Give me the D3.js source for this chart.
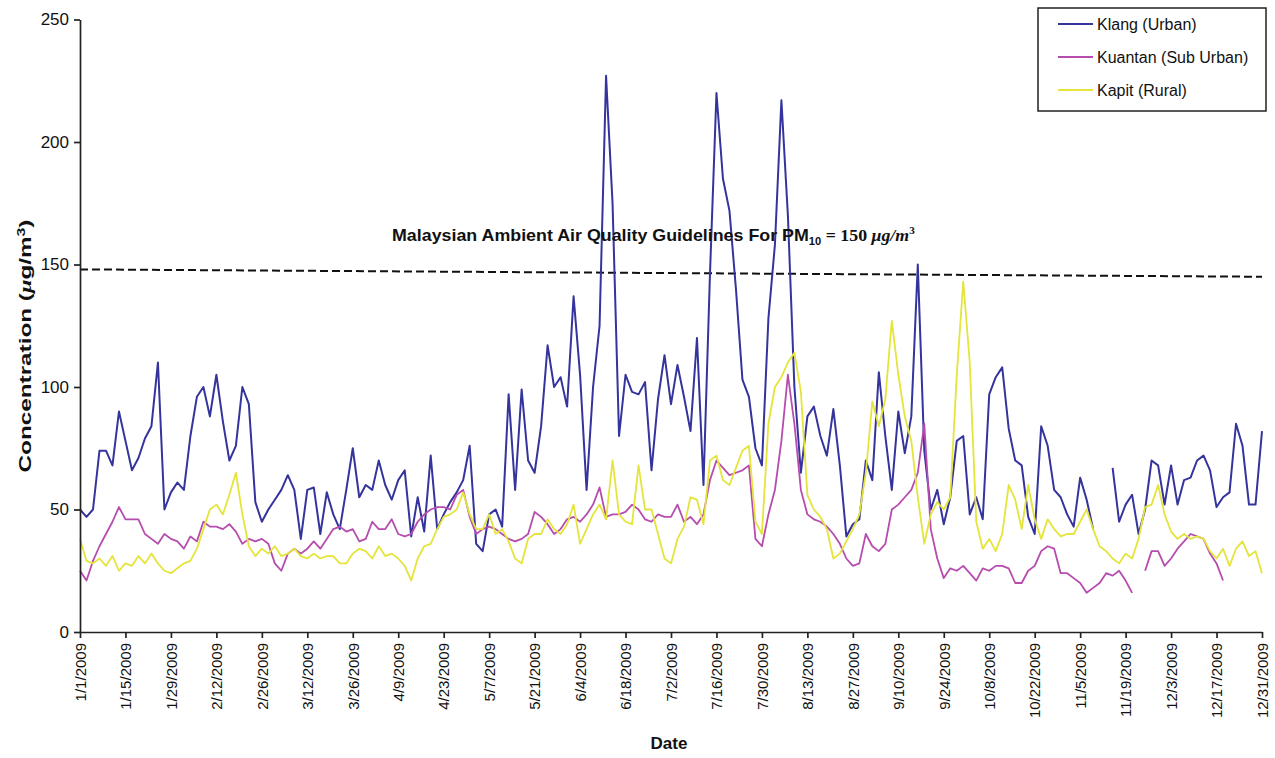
<!DOCTYPE html>
<html>
<head>
<meta charset="utf-8">
<script src="https://cdn.jsdelivr.net/npm/d3@7"></script>
<style>
  body { margin: 0; background: #fff; }
  svg { display: block; font-family: "Liberation Sans", Arial, sans-serif; }
</style>
</head>
<body>
<div id="chart"></div>
<script>
// daily PM10 readings, sampled every 2nd day from 1/1/2009
const startDate = "1/1/2009";
const stepDays = 2;

const klang = [
  50,47,50,74,74,68,90,78,66,71,
  79,84,110,50,57,61,58,80,96,100,
  88,105,86,70,76,100,93,53,45,50,
  54,58,64,58,38,58,59,40,57,48,
  42,58,75,55,60,58,70,60,54,62,
  66,39,55,41,72,42,48,53,57,62,
  76,36,33,48,50,43,97,58,99,70,
  65,84,117,100,104,92,137,105,58,100,
  125,227,175,80,105,98,97,102,66,95,
  113,93,109,96,82,120,60,146,220,185,
  172,140,103,96,75,68,128,158,217,170,
  100,65,88,92,80,72,91,68,39,44,
  46,70,62,106,80,58,90,73,88,150,
  74,50,58,44,55,78,80,48,55,46,
  97,104,108,83,70,68,47,40,84,76,
  58,55,48,43,63,54,42,null,null,67,
  45,52,56,40,50,70,68,52,68,52,
  62,63,70,72,66,51,55,57,85,76,
  52,52,82
];

const kuantan = [
  25,21,29,35,40,45,51,46,46,46,
  40,38,36,40,38,37,34,39,37,45,
  43,43,42,44,41,36,38,37,38,36,
  28,25,32,34,32,34,37,34,38,42,
  43,41,42,37,38,45,42,42,46,40,
  39,40,45,48,50,51,51,50,56,58,
  47,40,42,43,42,40,38,37,38,40,
  49,47,44,40,42,46,47,45,48,52,
  59,47,48,48,49,52,50,46,45,48,
  47,47,52,45,47,44,48,62,70,67,
  64,65,66,68,38,35,48,58,78,105,
  85,58,48,46,45,43,40,36,30,27,
  28,40,35,33,36,50,52,55,58,65,
  85,42,30,22,26,25,27,24,21,26,
  25,27,27,26,20,20,25,27,33,35,
  34,24,24,22,20,16,18,20,24,23,
  25,21,16,null,25,33,33,27,30,34,
  37,40,39,38,32,28,21,null,null,null,
  null,null,null
];

const kapit = [
  38,29,28,30,27,31,25,28,27,31,
  28,32,28,25,24,26,28,29,34,42,
  50,52,48,56,65,48,35,31,34,32,
  35,31,32,34,31,30,32,30,31,31,
  28,28,32,34,33,30,35,31,32,30,
  27,21,30,35,36,42,47,48,50,57,
  48,42,42,48,40,42,37,30,28,38,
  40,40,46,42,40,44,52,36,42,48,
  52,46,70,48,45,44,68,50,50,40,
  30,28,38,43,55,54,44,70,72,62,
  60,67,74,76,45,40,85,100,104,110,
  114,98,56,50,47,42,30,32,37,42,
  48,65,94,84,95,127,105,88,78,55,
  36,48,53,50,55,105,143,110,45,34,
  38,33,40,60,54,42,60,46,38,46,
  42,39,40,40,45,50,42,35,33,30,
  28,32,30,38,51,52,60,48,41,38,
  40,38,39,38,33,30,34,27,34,37,
  31,33,24
];

const seriesNames = ["Klang (Urban)", "Kuantan (Sub Urban)", "Kapit (Rural)"];
const seriesColors = ["#34349c", "#b64cae", "#e4e43a"];

const tickLabels = ["1/1/2009","1/15/2009","1/29/2009","2/12/2009","2/26/2009","3/12/2009",
  "3/26/2009","4/9/2009","4/23/2009","5/7/2009","5/21/2009","6/4/2009","6/18/2009",
  "7/2/2009","7/16/2009","7/30/2009","8/13/2009","8/27/2009","9/10/2009","9/24/2009",
  "10/8/2009","10/22/2009","11/5/2009","11/19/2009","12/3/2009","12/17/2009","12/31/2009"];
const yTicks = [0, 50, 100, 150, 200, 250];

// guideline as drawn in the source (slightly sloped), start and end value
const guideline = [148, 145];

const W = 1275, H = 758;
const parse = d3.timeParse("%m/%d/%Y");
const t0 = parse(startDate);
const tickDates = tickLabels.map(parse);

const x = d3.scaleTime().domain([tickDates[0], tickDates[tickDates.length - 1]]).range([80, 1262]);
const y = d3.scaleLinear().domain([0, 250]).range([632, 19.5]);

const svg = d3.select("#chart").append("svg").attr("width", W).attr("height", H);

// guideline dashed line
svg.append("line")
  .attr("x1", x(tickDates[0])).attr("x2", x(tickDates[tickDates.length - 1]))
  .attr("y1", y(guideline[0])).attr("y2", y(guideline[1]))
  .attr("stroke", "#111").attr("stroke-width", 2).attr("stroke-dasharray", "8,4");

// series lines
const line = d3.line()
  .defined(d => d.v != null)
  .x(d => x(d.date))
  .y(d => y(d.v));

[klang, kuantan, kapit].forEach((vals, k) => {
  const pts = vals.map((v, i) => ({ date: d3.timeDay.offset(t0, i * stepDays), v: v }));
  svg.append("path")
    .datum(pts)
    .attr("fill", "none")
    .attr("stroke", seriesColors[k])
    .attr("stroke-width", k == 0 ? 2 : 1.8)
    .attr("stroke-linejoin", "round")
    .attr("d", line);
});

// axes
const xAxis = svg.append("g")
  .attr("transform", "translate(0,632)")
  .call(d3.axisBottom(x).tickValues(tickDates).tickFormat((d, i) => tickLabels[i]).tickSize(6).tickSizeOuter(0));
xAxis.selectAll("text")
  .attr("x", -11).attr("y", 0).attr("dy", "0.35em")
  .attr("transform", "rotate(-90)")
  .attr("text-anchor", "end")
  .style("font-size", "15px").attr("fill", "#111");

const yAxis = svg.append("g")
  .attr("transform", "translate(80,0)")
  .call(d3.axisLeft(y).tickValues(yTicks).tickSize(6).tickSizeOuter(0).tickPadding(5));
yAxis.selectAll("text").style("font-size", "17px").attr("fill", "#111");

svg.selectAll(".domain, .tick line").attr("stroke", "#222").attr("stroke-width", 1.7);

// axis titles
const yt = svg.append("g");
const ytText = yt.append("text").attr("text-anchor", "middle")
  .style("font-weight", "bold").style("font-size", "17px").attr("fill", "#111");
ytText.append("tspan").text("Concentration (");
ytText.append("tspan").text("μ").style("font-family", "'Liberation Serif', serif").style("font-style", "italic");
ytText.append("tspan").text("g/m");
ytText.append("tspan").text("3").attr("dy", -6).style("font-size", "11px");
ytText.append("tspan").text(")").attr("dy", 6);
const ytw = ytText.node().getBBox().width;
yt.attr("transform", `translate(31,346) rotate(-90) scale(${253 / ytw},1)`);

svg.append("text").attr("x", 669).attr("y", 749).attr("text-anchor", "middle")
  .style("font-weight", "bold").style("font-size", "17px").attr("fill", "#111").text("Date");

// guideline annotation
const ann = svg.append("g");
const annText = ann.append("text").style("font-weight", "bold").style("font-size", "16px").attr("fill", "#111");
annText.append("tspan").text("Malaysian Ambient Air Quality Guidelines For PM");
annText.append("tspan").text("10").attr("dy", 4).style("font-size", "10px");
annText.append("tspan").text(" = 150 ").attr("dy", -4).style("font-family", "'Liberation Serif', serif");
annText.append("tspan").text("μg/m").style("font-family", "'Liberation Serif', serif").style("font-style", "italic");
annText.append("tspan").text("3").attr("dy", -7).style("font-size", "10px").style("font-family", "'Liberation Serif', serif");
const annW = annText.node().getBBox().width;
ann.attr("transform", `translate(392,241) scale(${523 / annW},1)`);

// legend
const legend = svg.append("g");
legend.append("rect").attr("x", 1038).attr("y", 8).attr("width", 228).attr("height", 103)
  .attr("fill", "#fff").attr("stroke", "#222").attr("stroke-width", 1.5);
seriesNames.forEach((name, i) => {
  const ly = 24 + i * 33;
  legend.append("line").attr("x1", 1058).attr("x2", 1093).attr("y1", ly).attr("y2", ly)
    .attr("stroke", seriesColors[i]).attr("stroke-width", 2);
  legend.append("text").attr("x", 1097).attr("y", ly).attr("dy", "0.35em")
    .style("font-size", "16px").attr("fill", "#111").text(name);
});
</script>
</body>
</html>
